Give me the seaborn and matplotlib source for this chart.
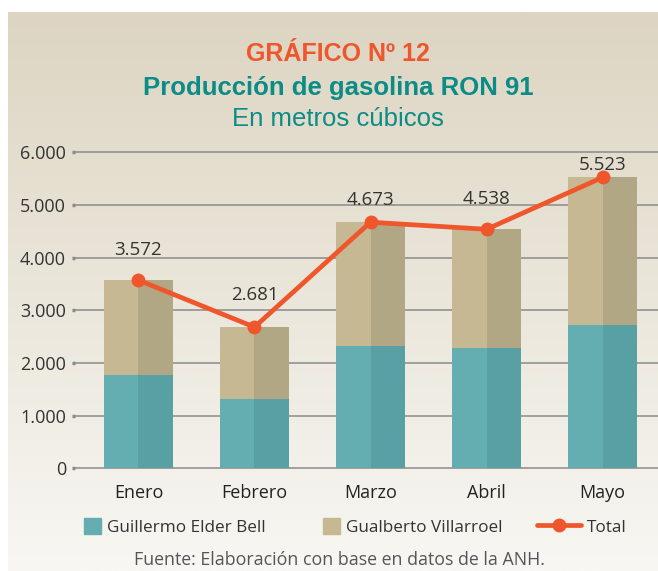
import numpy as np
import pandas as pd
import matplotlib
matplotlib.use("Agg")
import matplotlib.pyplot as plt
import seaborn as sns
from matplotlib.colors import LinearSegmentedColormap
from matplotlib.patches import Patch
from matplotlib.lines import Line2D
from matplotlib.font_manager import FontProperties

# ── Data (m3) ─────────────────────────────────────────────────
months = ["Enero", "Febrero", "Marzo", "Abril", "Mayo"]
elder_bell = [1780, 1320, 2330, 2290, 2730]
villarroel = [1792, 1361, 2343, 2248, 2793]
total = [3572, 2681, 4673, 4538, 5523]
y_ticks = [0, 1000, 2000, 3000, 4000, 5000, 6000]

# ── Style ─────────────────────────────────────────────────────
TEAL, TEAL_D = "#64aeb1", "#58a0a3"
TAN, TAN_D = "#c5b892", "#b1a784"
ORANGE = "#f0562b"
TITLE_TEAL = "#0b8c86"
HELV = ["Liberation Sans", "DejaVu Sans"]
label_offsets = [22, 23, 16, 22, 9]   # points above each marker
bar_w = 0.595

sns.set_theme(style="white")
plt.rcParams["font.family"] = ["Open Sans", "DejaVu Sans"]

df = pd.DataFrame({"mes": months, "elder": elder_bell,
                   "villa": villarroel, "total": total})
df["stack"] = df["elder"] + df["villa"]

fig = plt.figure(figsize=(6.58, 5.71), dpi=100)
fig.patch.set_facecolor("white")

# gradient panel behind everything
bg = fig.add_axes([8 / 658, 0, 650 / 658, 559 / 571], zorder=-10)
grad = np.linspace(0, 1, 256).reshape(-1, 1)
bg.imshow(grad, aspect="auto", extent=[0, 1, 0, 1], origin="upper",
          cmap=LinearSegmentedColormap.from_list("bg", ["#ddd5c2", "#f8f7f3"]))
bg.axis("off")

ax = fig.add_axes([75 / 658, 1 - 468.3 / 571, 583 / 658, 316 / 571])
ax.patch.set_alpha(0)

# ── Stacked bars (light left half, darker right half) ─────────
x = np.arange(len(months))
sns.barplot(data=df, x="mes", y="stack", color=TAN, saturation=1,
            width=bar_w, errorbar=None, ax=ax, zorder=2,
            linewidth=0, edgecolor="none")
ax.bar(x, df["stack"], width=bar_w / 2, align="edge", color=TAN_D,
       linewidth=0, zorder=2)
sns.barplot(data=df, x="mes", y="elder", color=TEAL, saturation=1,
            width=bar_w, errorbar=None, ax=ax, zorder=3,
            linewidth=0, edgecolor="none")
ax.bar(x, df["elder"], width=bar_w / 2, align="edge", color=TEAL_D,
       linewidth=0, zorder=3)

# ── Total line ───────────────────────────────────────────────
sns.lineplot(x=x, y=df["total"], color=ORANGE, linewidth=3.4, marker="o",
             markersize=10, markeredgewidth=0, ax=ax, zorder=5)
for i, (v, off) in enumerate(zip(total, label_offsets)):
    ax.annotate(f"{v:,}".replace(",", "."), (i, v), xytext=(0, off),
                textcoords="offset points", ha="center", va="center",
                fontsize=13.5, color="#333333", zorder=6)

# ── Axes ─────────────────────────────────────────────────────
ax.set_xlim(-0.547, 4.478)
ax.set_ylim(0, 6000)
ax.set_yticks(y_ticks)
ax.set_yticklabels([f"{t:,}".replace(",", ".") for t in y_ticks])
ax.yaxis.grid(True, color="#8a8a8a", linewidth=1.1)
for gl in ax.get_ygridlines():
    gl.set_clip_on(False)
ax.set_axisbelow(True)
ax.tick_params(axis="y", length=2.5, width=2.5, color="#8a8a8a", pad=4,
               labelsize=13, labelcolor="#333333", left=True)
ax.tick_params(axis="x", length=0, pad=11, labelsize=13, labelcolor="#222222")
for s in ax.spines.values():
    s.set_visible(False)
ax.set_xlabel("")
ax.set_ylabel("")

# ── Titles ───────────────────────────────────────────────────
fig.text(338 / 658, 1 - 61 / 571, "GRÁFICO Nº 12", ha="center", va="baseline",
         fontsize=18, fontweight="bold", color=ORANGE, family=HELV)
fig.text(338 / 658, 1 - 95 / 571, "Producción de gasolina RON 91", ha="center",
         va="baseline", fontsize=18.5, fontweight="bold", color=TITLE_TEAL, family=HELV)
fig.text(338 / 658, 1 - 126 / 571, "En metros cúbicos", ha="center",
         va="baseline", fontsize=18.5, color=TITLE_TEAL, family=HELV)

# ── Legend ───────────────────────────────────────────────────
fp = FontProperties(family=["Open Sans", "DejaVu Sans"], size=12.3)
entries = [
    (Patch(color=TEAL), "Guillermo Elder Bell", 84, 1.0, 0.35),
    (Patch(color=TAN), "Gualberto Villarroel", 323, 1.0, 0.35),
    (Line2D([], [], color=ORANGE, lw=3.4, marker="o", markersize=10,
            markeredgewidth=0), "Total", 537, 2.6, 0.3),
]
for handle, text, x0, hl, tp in entries:
    fig.legend([handle], [text], loc="center left",
               bbox_to_anchor=(x0 / 658, 1 - 527 / 571), frameon=False,
               borderpad=0, borderaxespad=0, handlelength=hl, handleheight=1.0,
               handletextpad=tp, prop=fp, labelcolor="#333333")

fig.text(339 / 658, 1 - 560 / 571,
         "Fuente: Elaboración con base en datos de la ANH.",
         ha="center", va="center", fontsize=12.8, color="#555555")

fig.savefig("out.png", dpi=100)
